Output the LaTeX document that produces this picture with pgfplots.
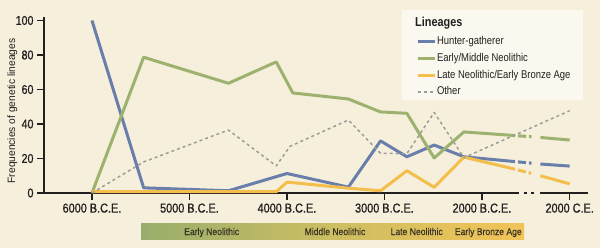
\documentclass[border=0pt]{standalone}
\usepackage{fontspec}
\setmainfont{Liberation Sans}[FakeStretch=0.84]
\newfontfamily\tickfont{Liberation Sans}[FakeStretch=0.84, FakeBold=0.8]
\newfontfamily\ylabfont{Liberation Sans}[FakeStretch=0.96]
\newfontfamily\bandfont{Liberation Sans}[FakeStretch=0.88, FakeBold=0.3]
\usepackage{pgfplots}
\pgfplotsset{compat=1.18}
\definecolor{bg}{RGB}{245,239,220}
\definecolor{legbg}{RGB}{251,248,239}
\definecolor{cblue}{RGB}{106,126,171}
\definecolor{cgreen}{RGB}{156,178,110}
\definecolor{cyellow}{RGB}{243,190,75}
\definecolor{cgray}{RGB}{158,158,152}
\definecolor{axcol}{RGB}{35,31,32}
\definecolor{bandL}{RGB}{152,174,108}
\definecolor{bandM}{RGB}{205,190,98}
\definecolor{bandR}{RGB}{242,196,88}
\definecolor{bandtext}{RGB}{55,50,35}
\begin{document}
\begin{tikzpicture}[x=1bp,y=1bp]
\fill[bg] (0,0) rectangle (600,248);
\useasboundingbox (0,0) rectangle (600,248);
\fill[legbg] (402,148) rectangle (583,238);
\node[anchor=base west, font=\fontsize{13}{13}\selectfont\bfseries, inner sep=0, text=axcol] at (415,221.3) {Lineages};
\shade[left color=bandL, right color=bandR, middle color=bandM] (141,8.7) rectangle (524,24.7);
\begin{scope}[every node/.style={anchor=base, inner sep=0, font=\bandfont\fontsize{9.8}{9.8}\selectfont, text=bandtext}]
\node at (211.7,13) {Early Neolithic};
\node at (335,13) {Middle Neolithic};
\node at (416.7,13) {Late Neolithic};
\node at (488.3,13) {Early Bronze Age};
\end{scope}
\node[rotate=90, anchor=base, inner sep=0, font=\ylabfont\fontsize{10.7}{10.7}\selectfont, text=axcol] at (15,137) {Frequencies of genetic lineages};
\begin{axis}[
  at={(44bp,55bp)}, anchor=south west, scale only axis,
  width=544bp, height=176.3bp,
  xmin=-6492, xmax=-912, ymin=0, ymax=102.2,
  clip=false,
  axis lines=left,
  axis line style={-, line width=1.6bp, draw=axcol},
  x axis line style={draw=none},
  xtick={-6000,-5000,-4000,-3000,-2000,-1100},
  xticklabels={6000 B.C.E., 5000 B.C.E., 4000 B.C.E., 3000 B.C.E., 2000 B.C.E., 2000 C.E.},
  ytick={0,20,40,60,80,100},
  tick align=outside,
  major tick length=7bp,
  tick style={line width=1.4bp, draw=axcol},
  xticklabel style={font=\tickfont\fontsize{13}{13}\selectfont, text=axcol},
  yticklabel style={font=\tickfont\fontsize{12.8}{12.8}\selectfont, text=axcol},
  /pgf/number format/assume math mode=true,
  legend style={at={(0.6838,0.9055)}, anchor=north west, draw=none, fill=none,
    inner sep=0pt, outer sep=0pt, font=\fontsize{11.3}{11.3}\selectfont,
    row sep=0pt, nodes={inner sep=1bp, text height=10.5bp, text depth=4.2bp, text=axcol}},
  legend cell align=left,
  legend image code/.code={\draw[#1] (0bp,0bp) -- (17bp,0bp);},
  every axis plot/.append style={line join=round},
]
\draw[axcol, line width=1.6bp] (axis cs:-6492,0) -- (axis cs:-1620,0);
\draw[axcol, line width=1.6bp] (axis cs:-1570,0) -- (axis cs:-1540,0);
\draw[axcol, line width=1.6bp] (axis cs:-1500,0) -- (axis cs:-1470,0);
\draw[axcol, line width=1.6bp] (axis cs:-1400,0) -- (axis cs:-912,0);
% Hunter-gatherer
\addplot[cblue, line width=3bp] coordinates {(-6000,100) (-5470,3) (-4600,1.3) (-4000,11.3) (-3370,3.4) (-3040,30.2) (-2770,21) (-2490,27.8) (-2185,21) (-1660,18.2)};
\addlegendentry{Hunter-gatherer}
% Early/Middle Neolithic
\addplot[cgreen, line width=3bp] coordinates {(-6000,0) (-5470,78.7) (-4600,63.6) (-4110,76) (-3940,58) (-3370,54.5) (-3040,47) (-2770,46.2) (-2490,20.3) (-2185,35.4) (-1660,33.3)};
\addlegendentry{Early/Middle Neolithic}
% Late Neolithic/Early Bronze Age
\addplot[cyellow, line width=3bp] coordinates {(-6000,0.8) (-4110,0.8) (-4000,6.2) (-3940,6) (-3370,2.8) (-3040,1.3) (-2770,12.9) (-2490,3.3) (-2185,20.8) (-1660,13.8)};
\addlegendentry{Late Neolithic/Early Bronze Age}
% Other
\addplot[cgray, line width=1.5bp, dash pattern=on 3bp off 3bp] coordinates {(-6000,0) (-5470,18) (-4600,36.5) (-4110,15.7) (-3970,27) (-3370,42.3) (-3040,23) (-2770,22.8) (-2490,46.7) (-2185,20.5) (-1100,47.7)};
\addlegendentry{Other}
% break segments
\addplot[forget plot, cblue, line width=3bp, dash pattern=on 0bp off 3bp on 8bp off 3bp on 2.5bp off 20bp] coordinates {(-1660,18.2) (-1400,16.8)};
\addplot[forget plot, cblue, line width=3bp] coordinates {(-1400,16.8) (-1100,15.6)};
\addplot[forget plot, cgreen, line width=3bp, dash pattern=on 0bp off 3bp on 8bp off 3bp on 2.5bp off 20bp] coordinates {(-1660,33.3) (-1400,32.2)};
\addplot[forget plot, cgreen, line width=3bp] coordinates {(-1400,32.2) (-1100,30.7)};
\addplot[forget plot, cyellow, line width=3bp, dash pattern=on 0bp off 3bp on 8bp off 3bp on 2.5bp off 20bp] coordinates {(-1660,13.8) (-1400,10)};
\addplot[forget plot, cyellow, line width=3bp] coordinates {(-1400,10) (-1100,5.3)};
\end{axis}
\end{tikzpicture}
\end{document}
